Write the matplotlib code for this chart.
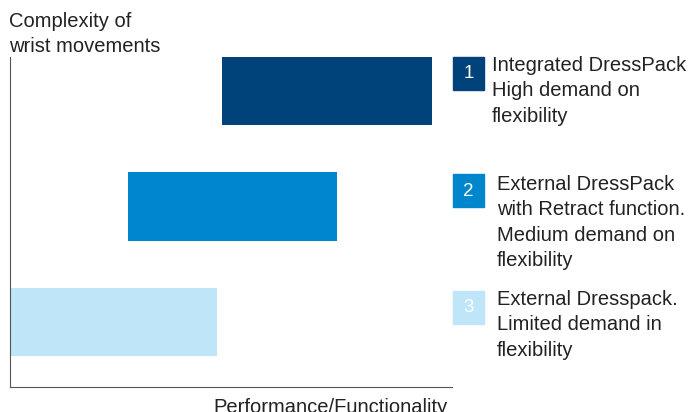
import matplotlib.pyplot as plt
from matplotlib.patches import Rectangle

plt.rcParams['font.family'] = ['Liberation Sans', 'DejaVu Sans']

# bar extents on the performance axis (0-100) and complexity levels (0-10)
labels = ['1', '2', '3']
starts = [48.0, 26.7, 0.0]
ends = [95.5, 74.0, 46.8]
levels = [8.97, 5.47, 1.97]
bar_height = 2.07
colors = ['#00427A', '#0086CD', '#BEE5F8']
descriptions = [
    'Integrated DressPack\nHigh demand on\nflexibility',
    'External DressPack\nwith Retract function.\nMedium demand on\nflexibility',
    'External Dresspack.\nLimited demand in\nflexibility',
]

W, H = 689, 412
fig = plt.figure(figsize=(W / 100, H / 100), dpi=100)
ax = fig.add_axes([10 / W, 25 / H, 442 / W, 330 / H])

widths = [e - s for s, e in zip(starts, ends)]
ax.barh(levels, widths, left=starts, height=bar_height, color=colors)
ax.set_xlim(0, 100)
ax.set_ylim(0, 10)
ax.set_xticks([])
ax.set_yticks([])
for side in ['top', 'right']:
    ax.spines[side].set_visible(False)
for side in ['left', 'bottom']:
    ax.spines[side].set_color('#555555')
    ax.spines[side].set_linewidth(0.8)

txt = '#222222'
fs = 14.5


def px(x, y):
    return x / W, 1 - y / H


fig.text(*px(9, 12), 'Complexity of\nwrist movements', fontsize=fs,
         color=txt, va='top', ha='left', linespacing=1.38)
fig.text(*px(448, 398), 'Performance/Functionality', fontsize=fs,
         color=txt, va='top', ha='right')

# legend boxes with numbers and descriptions
box_tops = [57, 174, 291]
text_tops = [56, 175, 290]
text_x = [492, 497, 497]
for lab, col, desc, top, ty, tx in zip(labels, colors, descriptions,
                                       box_tops, text_tops, text_x):
    x0, y0 = px(453, top + 33)
    fig.add_artist(Rectangle((x0, y0), 31 / W, 33 / H, color=col,
                             transform=fig.transFigure))
    fig.text(*px(468.5, top + 17), lab, fontsize=13.5, color='white',
             ha='center', va='center')
    fig.text(*px(tx, ty), desc, fontsize=fs, color=txt,
             ha='left', va='top', linespacing=1.42)

fig.savefig('out.png', dpi=100)
